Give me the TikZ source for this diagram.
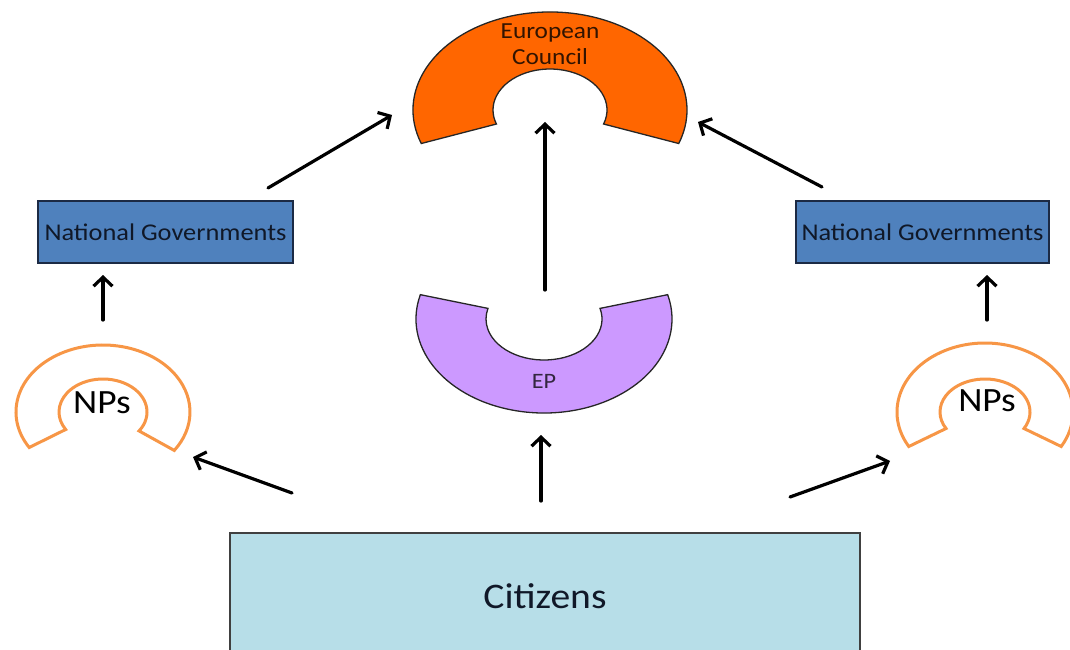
\documentclass[tikz,border=0pt]{standalone}
\usepackage{fontspec}
\setmainfont{Carlito}[FakeStretch=1.1]
\usetikzlibrary{arrows.meta}
\definecolor{ecorange}{HTML}{FF6600}
\definecolor{eplav}{HTML}{CC99FF}
\definecolor{nporange}{HTML}{F79646}
\definecolor{ngblue}{HTML}{4F81BD}
\definecolor{ngborder}{HTML}{1C2A44}
\definecolor{citfill}{HTML}{B7DEE8}
\definecolor{darktext}{HTML}{101828}
\begin{document}
\begin{tikzpicture}[x=1pt,y=-1pt,
  conn/.style={line width=3.2pt,-{Straight Barb[length=9pt,width=19pt]},line cap=round,line join=round},
  ngbox/.style={draw=ngborder,line width=1.6pt,fill=ngblue,minimum width=255pt,minimum height=62pt,inner sep=0pt,
    font=\fontsize{24pt}{28pt}\selectfont,text=darktext},
  ecshape/.style={draw=black!85,line width=1.3pt,fill=ecorange},
  epshape/.style={draw=black!85,line width=1.3pt,fill=eplav},
  npshape/.style={draw=nporange,line width=3pt,fill=white},
  lbl/.style={inner sep=0pt,align=center}]
\useasboundingbox (0,0) rectangle (1070,650);

% European Council
\begin{scope}[shift={(550,110)}]
\draw[ecshape] (160:137 and 98) arc[start angle=160,end angle=380,x radius=137,y radius=98]
  -- (20:57 and 41) arc[start angle=20,end angle=-200,x radius=57,y radius=41] -- cycle;
\end{scope}
\node[lbl,font=\fontsize{23pt}{26pt}\selectfont,text=black!80!ecorange] (ec) at (550,44) {European\\Council};

% EP
\begin{scope}[shift={(544,319)}]
\draw[epshape] (195:128 and 94) arc[start angle=195,end angle=-15,x radius=128,y radius=94]
  -- (-15:58 and 41) arc[start angle=-15,end angle=195,x radius=58,y radius=41] -- cycle;
\end{scope}
\node[lbl,font=\fontsize{22pt}{26pt}\selectfont,text=black!75!eplav] (ep) at (544,381) {EP};

% NPs left
\begin{scope}[shift={(103,412)}]
\draw[npshape] (148:87 and 67) arc[start angle=148,end angle=395,x radius=87,y radius=67]
  -- (35:44 and 33) arc[start angle=35,end angle=-212,x radius=44,y radius=33] -- cycle;
\end{scope}
\node[lbl,font=\fontsize{34pt}{40pt}\selectfont] (np1) at (102,403) {NPs};

% NPs right
\begin{scope}[shift={(985,412)}]
\draw[npshape] (150:88 and 69) arc[start angle=150,end angle=390,x radius=88,y radius=69]
  -- (30:45 and 33) arc[start angle=30,end angle=-210,x radius=45,y radius=33] -- cycle;
\end{scope}
\node[lbl,font=\fontsize{34pt}{40pt}\selectfont] (np2) at (987,401) {NPs};

% National Governments
\node[ngbox] (ng1) at (165.5,232) {National Governments};
\node[ngbox,minimum width=253pt] (ng2) at (922.5,232) {National Governments};

% Citizens
\node[draw=black!75,line width=1.3pt,fill=citfill,minimum width=630pt,minimum height=126pt,inner sep=0pt,
  font=\fontsize{36pt}{42pt}\selectfont,text=darktext] (cit) at (545,596) {Citizens};

% arrow end points
\coordinate (a1s) at (268,188); \coordinate (a1e) at (392,115);
\coordinate (a2s) at (545,290); \coordinate (a2e) at (545,122);
\coordinate (a3s) at (822,187); \coordinate (a3e) at (698,122);
\coordinate (a4s) at (103,320); \coordinate (a4e) at (103,275);
\coordinate (a5s) at (987,320); \coordinate (a5e) at (987,275);
\coordinate (a6s) at (292,493); \coordinate (a6e) at (193,457);
\coordinate (a7s) at (541,501); \coordinate (a7e) at (541,435);
\coordinate (a8s) at (790,497); \coordinate (a8e) at (890,461);

\draw[conn] (a1s) -- (a1e);
\draw[conn] (a2s) -- (a2e);
\draw[conn] (a3s) -- (a3e);
\draw[conn] (a4s) -- (a4e);
\draw[conn] (a5s) -- (a5e);
\draw[conn] (a6s) -- (a6e);
\draw[conn] (a7s) -- (a7e);
\draw[conn] (a8s) -- (a8e);
\end{tikzpicture}
\end{document}
